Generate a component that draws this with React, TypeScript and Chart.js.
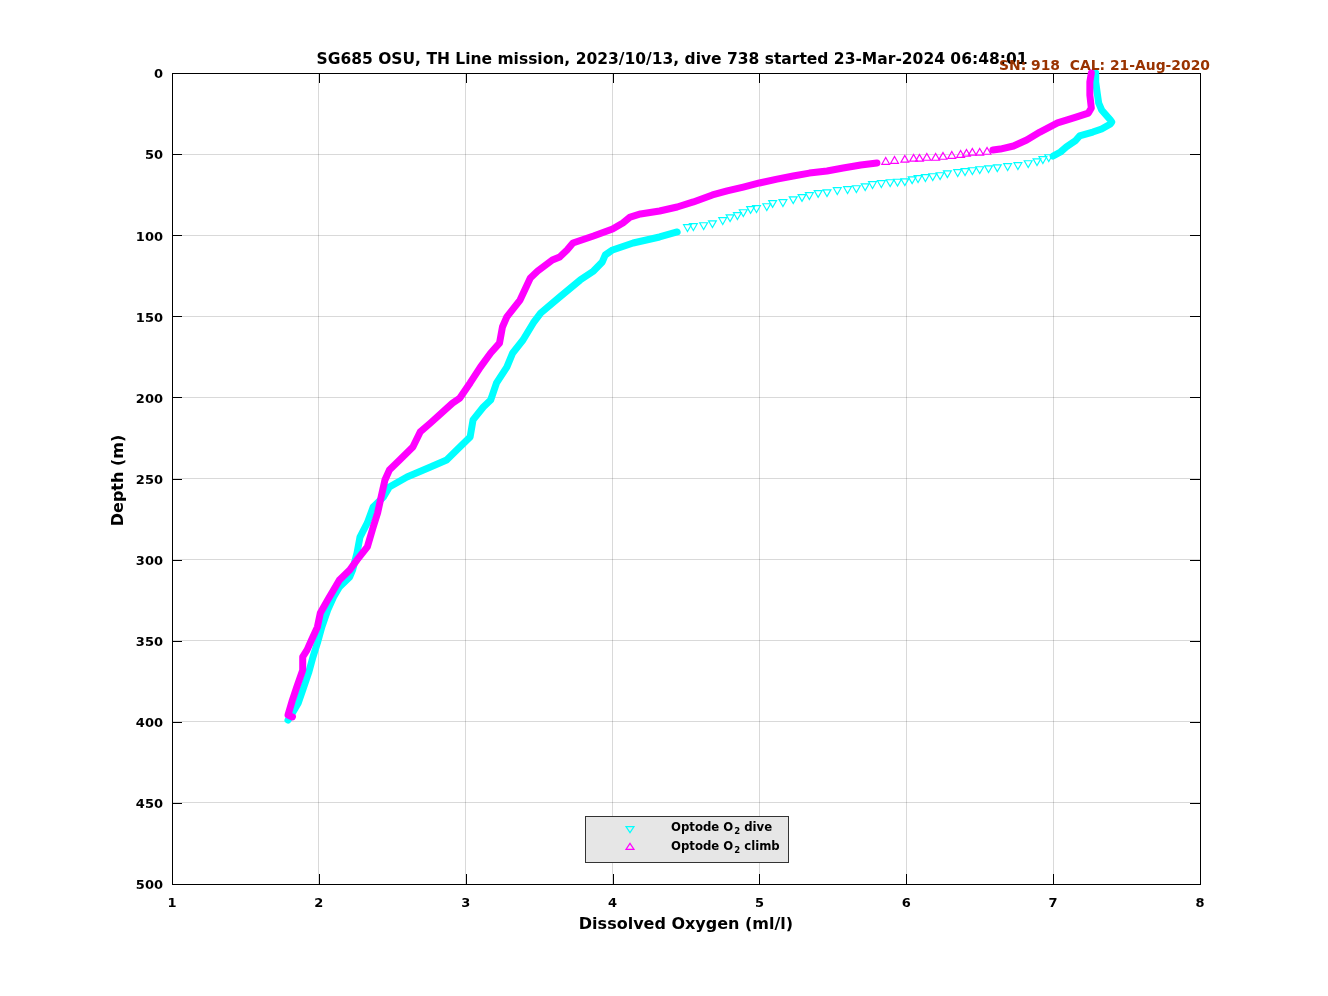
import React, { useEffect, useRef } from "react";
import { Chart, registerables } from "chart.js";

Chart.register(...registerables);

// ---------- text ----------
const TITLE = "SG685 OSU, TH Line mission, 2023/10/13, dive 738 started 23-Mar-2024 06:48:01";
const CAL_TEXT = "SN: 918  CAL: 21-Aug-2020";
const X_TITLE = "Dissolved Oxygen (ml/l)";
const Y_TITLE = "Depth (m)";
const LEGEND_DIVE = ["Optode O", "2", " dive"];
const LEGEND_CLIMB = ["Optode O", "2", " climb"];

// ---------- ticks ----------
const X_TICKS = [1, 2, 3, 4, 5, 6, 7, 8];
const Y_TICKS = [0, 50, 100, 150, 200, 250, 300, 350, 400, 450, 500];

// ---------- dive (cyan) ----------
const diveUpperO2 = [7.29, 7.29, 7.3, 7.31, 7.33, 7.36, 7.39, 7.4, 7.39, 7.33, 7.27, 7.18, 7.15, 7.09, 7.05, 7.0];
const diveUpperDepth = [0, 5.5, 12.3, 18.5, 22.8, 25.9, 29.0, 30.2, 31.4, 34.5, 36.4, 38.8, 41.9, 45.6, 48.7, 51.2];

const diveSparseO2 = [6.97, 6.93, 6.89, 6.83, 6.76, 6.69, 6.62, 6.56, 6.5, 6.45, 6.4, 6.35, 6.28, 6.23, 6.18, 6.13, 6.08, 6.04, 5.99, 5.94, 5.89, 5.83, 5.77, 5.72, 5.66, 5.6, 5.53, 5.46, 5.4, 5.34, 5.29, 5.23, 5.16, 5.09, 5.05, 4.98, 4.94, 4.89, 4.85, 4.8, 4.75, 4.68, 4.62, 4.55, 4.51];
const diveSparseDepth = [51.8, 53.0, 54.3, 55.5, 56.7, 57.3, 58.0, 58.6, 59.2, 59.8, 60.4, 61.0, 61.7, 62.9, 63.5, 64.1, 64.7, 65.4, 66.6, 66.9, 67.2, 67.8, 68.4, 69.7, 70.9, 71.5, 72.1, 73.4, 73.9, 75.2, 76.4, 77.7, 79.5, 80.1, 82.0, 83.2, 83.8, 85.7, 87.5, 88.8, 90.6, 92.5, 93.7, 94.3, 94.9];

const diveLowerO2 = [4.44, 4.32, 4.14, 4.0, 3.95, 3.93, 3.87, 3.78, 3.64, 3.51, 3.46, 3.39, 3.32, 3.28, 3.21, 3.17, 3.12, 3.05, 3.03, 2.96, 2.87, 2.76, 2.6, 2.48, 2.44, 2.37, 2.33, 2.28, 2.26, 2.23, 2.21, 2.14, 2.1, 2.06, 2.02, 1.99, 1.96, 1.93, 1.89, 1.86, 1.82, 1.79];
const diveLowerDepth = [98.0, 101.1, 104.8, 109.1, 112.2, 116.5, 122.1, 127.6, 138.1, 148.0, 154.1, 164.6, 172.6, 181.3, 191.1, 201.6, 205.9, 213.9, 224.4, 230.6, 238.6, 242.9, 249.1, 255.2, 261.4, 267.6, 277.4, 286.1, 295.9, 306.4, 310.7, 316.9, 323.1, 331.1, 341.6, 351.4, 360.0, 369.9, 380.4, 388.4, 394.6, 398.9];

// ---------- climb (magenta) ----------
const climbUpperO2 = [7.26, 7.25, 7.25, 7.26, 7.24, 7.14, 7.03, 6.91, 6.82, 6.73, 6.64, 6.59];
const climbUpperDepth = [0, 5.5, 13.6, 21.6, 24.7, 27.7, 30.8, 36.4, 41.3, 45.0, 46.9, 47.5];

const climbSparseO2 = [6.55, 6.5, 6.45, 6.41, 6.37, 6.31, 6.25, 6.2, 6.14, 6.09, 6.05, 5.99, 5.92, 5.86];
const climbSparseDepth = [48.7, 49.3, 49.3, 49.9, 50.6, 51.2, 51.8, 52.4, 52.4, 53.0, 53.0, 53.6, 54.3, 54.9];

const climbLowerO2 = [5.8, 5.69, 5.57, 5.46, 5.34, 5.23, 5.12, 5.0, 4.89, 4.78, 4.68, 4.55, 4.44, 4.32, 4.19, 4.12, 4.07, 4.0, 3.87, 3.73, 3.69, 3.64, 3.59, 3.49, 3.44, 3.37, 3.28, 3.25, 3.23, 3.17, 3.1, 3.03, 2.96, 2.91, 2.76, 2.69, 2.64, 2.55, 2.48, 2.45, 2.43, 2.4, 2.37, 2.33, 2.26, 2.21, 2.14, 2.1, 2.06, 2.01, 1.99, 1.95, 1.92, 1.89, 1.89, 1.85, 1.82, 1.8, 1.79, 1.82];
const climbLowerDepth = [55.5, 56.7, 58.6, 60.4, 61.7, 63.5, 65.4, 67.8, 70.3, 72.7, 75.2, 79.5, 82.6, 85.1, 86.9, 88.8, 92.5, 96.2, 100.5, 104.8, 109.1, 113.4, 115.3, 122.1, 126.4, 140.0, 150.4, 156.6, 166.5, 172.6, 181.3, 191.1, 200.4, 203.5, 215.8, 221.3, 230.6, 238.6, 244.8, 250.9, 258.9, 271.3, 279.9, 292.2, 300.2, 306.4, 312.6, 318.7, 324.9, 332.9, 341.6, 349.6, 355.7, 360.0, 368.1, 378.5, 386.6, 392.7, 395.8, 397.0];

// ---------- style ----------
const CYAN = "#00ffff";
const MAGENTA = "#ff00ff";
const FONT = "'DejaVu Sans', sans-serif";
const W = 1328;
const H = 996;

const pts = (xs: number[], ys: number[]) => xs.map((x, i) => ({ x, y: ys[i] }));

function makeBand(xs: number[], ys: number[], color: string, rot: number, order: number) {
  return {
    data: pts(xs, ys),
    showLine: true,
    borderColor: color,
    borderWidth: 7,
    borderJoinStyle: "round",
    borderCapStyle: "round",
    tension: 0,
    pointStyle: "triangle",
    pointRotation: rot,
    pointRadius: 0,
    clip: false,
    order,
  };
}
function makeSparse(xs: number[], ys: number[], color: string, rot: number, order: number) {
  return {
    data: pts(xs, ys),
    showLine: false,
    pointStyle: "triangle",
    pointRotation: rot,
    pointRadius: 4.5,
    pointBorderWidth: 1.2,
    pointBorderColor: color,
    pointBackgroundColor: "rgba(0,0,0,0)",
    clip: false,
    order,
  };
}

function tri(ctx: CanvasRenderingContext2D, x: number, y: number, down: boolean, color: string) {
  const r = 4;
  ctx.save();
  ctx.strokeStyle = color;
  ctx.lineWidth = 1.2;
  ctx.beginPath();
  if (down) {
    ctx.moveTo(x - r, y - r * 0.6);
    ctx.lineTo(x + r, y - r * 0.6);
    ctx.lineTo(x, y + r * 0.9);
  } else {
    ctx.moveTo(x - r, y + r * 0.6);
    ctx.lineTo(x + r, y + r * 0.6);
    ctx.lineTo(x, y - r * 0.9);
  }
  ctx.closePath();
  ctx.stroke();
  ctx.restore();
}

function subText(ctx: CanvasRenderingContext2D, parts: string[], x: number, y: number) {
  ctx.save();
  ctx.fillStyle = "#000";
  ctx.textAlign = "left";
  ctx.textBaseline = "middle";
  ctx.font = `bold 11.7px ${FONT}`;
  ctx.fillText(parts[0], x, y);
  let cx = x + ctx.measureText(parts[0]).width + 1;
  ctx.font = `bold 8.5px ${FONT}`;
  ctx.fillText(parts[1], cx, y + 4);
  cx += ctx.measureText(parts[1]).width;
  ctx.font = `bold 11.7px ${FONT}`;
  ctx.fillText(parts[2], cx, y);
  ctx.restore();
}

const framePlugin = {
  id: "matlabFrame",
  beforeDatasetsDraw(chart: any) {
    const { ctx, chartArea: a, scales } = chart;
    ctx.save();
    ctx.strokeStyle = "#000";
    ctx.lineWidth = 1;
    ctx.strokeRect(Math.round(a.left) + 0.5, Math.round(a.top) + 0.5, Math.round(a.right - a.left), Math.round(a.bottom - a.top));
    const tl = 10;
    ctx.beginPath();
    X_TICKS.forEach((v) => {
      const x = Math.round(scales.x.getPixelForValue(v)) + 0.5;
      ctx.moveTo(x, a.top);
      ctx.lineTo(x, a.top + tl);
      ctx.moveTo(x, a.bottom);
      ctx.lineTo(x, a.bottom - tl);
    });
    Y_TICKS.forEach((v) => {
      const y = Math.round(scales.y.getPixelForValue(v)) + 0.5;
      ctx.moveTo(a.left, y);
      ctx.lineTo(a.left + tl, y);
      ctx.moveTo(a.right, y);
      ctx.lineTo(a.right - tl, y);
    });
    ctx.stroke();
    ctx.restore();
  },
  afterDraw(chart: any) {
    const { ctx, chartArea: a } = chart;
    ctx.save();
    // title
    ctx.fillStyle = "#000";
    ctx.font = `bold 15.5px ${FONT}`;
    ctx.textAlign = "center";
    ctx.textBaseline = "middle";
    ctx.fillText(TITLE, 672, 60);
    // calibration text
    ctx.fillStyle = "#993300";
    ctx.font = `bold 13.9px ${FONT}`;
    ctx.textAlign = "right";
    ctx.fillText(CAL_TEXT, 1210, 66);
    // axis titles
    ctx.fillStyle = "#000";
    ctx.font = `bold 16px ${FONT}`;
    ctx.textAlign = "center";
    ctx.fillText(X_TITLE, (a.left + a.right) / 2, 925);
    ctx.save();
    ctx.translate(119, (a.top + a.bottom) / 2 + 2);
    ctx.rotate(-Math.PI / 2);
    ctx.fillText(Y_TITLE, 0, 0);
    ctx.restore();
    // legend
    const lx = 585, ly = 816, lw = 203, lh = 46;
    ctx.fillStyle = "#e6e6e6";
    ctx.fillRect(lx, ly, lw, lh);
    ctx.strokeStyle = "#333";
    ctx.lineWidth = 1;
    ctx.strokeRect(lx + 0.5, ly + 0.5, lw, lh);
    tri(ctx, 630, 829, true, CYAN);
    tri(ctx, 630, 847, false, MAGENTA);
    subText(ctx, LEGEND_DIVE, 671, 828);
    subText(ctx, LEGEND_CLIMB, 671, 847);
    ctx.restore();
  },
};

export default function App() {
  const ref = useRef<HTMLCanvasElement | null>(null);
  useEffect(() => {
    if (!ref.current) return;
    const chart = new Chart(ref.current, {
      type: "scatter",
      data: {
        datasets: [
          makeBand(diveUpperO2, diveUpperDepth, CYAN, 180, 2),
          makeSparse(diveSparseO2, diveSparseDepth, CYAN, 180, 2),
          makeBand(diveLowerO2, diveLowerDepth, CYAN, 180, 2),
          makeBand(climbUpperO2, climbUpperDepth, MAGENTA, 0, 1),
          makeSparse(climbSparseO2, climbSparseDepth, MAGENTA, 0, 1),
          makeBand(climbLowerO2, climbLowerDepth, MAGENTA, 0, 1),
        ] as any,
      },
      options: {
        responsive: false,
        animation: false,
        devicePixelRatio: 1,
        layout: { padding: { left: 0, right: W - 1200, top: 73, bottom: 0 } },
        plugins: { legend: { display: false }, tooltip: { enabled: false }, title: { display: false } },
        scales: {
          x: {
            type: "linear",
            min: 1,
            max: 8,
            afterFit: (s: any) => { s.height = H - 884; },
            afterBuildTicks: (s: any) => { s.ticks = X_TICKS.map((v) => ({ value: v })); },
            ticks: { color: "#000", padding: 12, font: { family: FONT, size: 13, weight: "bold" } },
            grid: { color: "rgba(0,0,0,0.15)", drawTicks: false },
            border: { display: false },
          },
          y: {
            type: "linear",
            reverse: true,
            min: 0,
            max: 500,
            afterFit: (s: any) => { s.width = 172; },
            afterBuildTicks: (s: any) => { s.ticks = Y_TICKS.map((v) => ({ value: v })); },
            ticks: { color: "#000", padding: 9, labelOffset: 2, font: { family: FONT, size: 13, weight: "bold" } },
            grid: { color: "rgba(0,0,0,0.15)", drawTicks: false },
            border: { display: false },
          },
        },
      } as any,
      plugins: [framePlugin],
    });
    return () => chart.destroy();
  }, []);
  return (
    <div style={{ position: "fixed", left: 0, top: 0, width: W, height: H, background: "#fff" }}>
      <canvas ref={ref} width={W} height={H} style={{ width: W, height: H, display: "block" }} />
    </div>
  );
}
